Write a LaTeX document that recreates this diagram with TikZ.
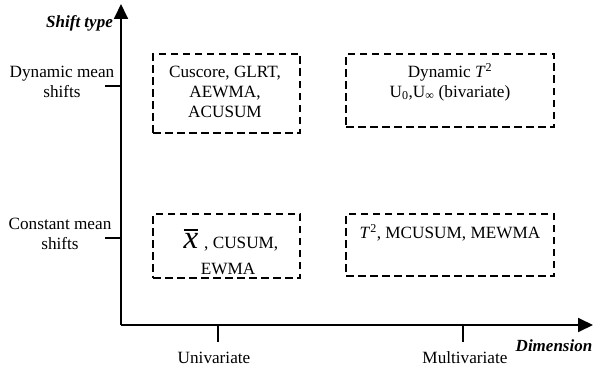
\documentclass[tikz,border=0pt]{standalone}
\usepackage{fontspec}
\setmainfont{Liberation Serif}
\usetikzlibrary{arrows.meta}
\begin{document}
\begin{tikzpicture}[x=1pt,y=-1pt,
  axis/.style={line width=1.8pt,-{Triangle[length=15pt,width=14pt]}},
  tick/.style={line width=1.8pt},
  dbox/.style={draw,line width=1.7pt,dash pattern=on 7.5pt off 4.5pt,inner sep=0pt},
  lbl/.style={font=\fontsize{17.2}{20}\selectfont,align=center,inner sep=0pt},
  axlbl/.style={font=\fontsize{17}{20}\selectfont\bfseries\itshape,inner sep=0pt}]
\useasboundingbox (0,0) rectangle (594,369);
% axes
\coordinate (O) at (121,325);
\coordinate (ytop) at (121,4);
\coordinate (xend) at (593,325);
\draw[axis] (O) -- (ytop);
\draw[axis] (O) -- (xend);
% ticks
\coordinate (t1a) at (105,86); \coordinate (t1b) at (121,86);
\coordinate (t2a) at (105,238); \coordinate (t2b) at (121,238);
\coordinate (t3a) at (218,325); \coordinate (t3b) at (218,342);
\coordinate (t4a) at (463,325); \coordinate (t4b) at (463,342);
\draw[tick] (t1a) -- (t1b);
\draw[tick] (t2a) -- (t2b);
\draw[tick] (t3a) -- (t3b);
\draw[tick] (t4a) -- (t4b);
% axis labels
\node[axlbl,anchor=east] (st) at (113,23) {Shift type};
\node[axlbl] (dim) at (554,346) {Dimension};
\node[lbl] (dyn) at (62,82) {Dynamic mean\\shifts};
\node[lbl] (con) at (60,234) {Constant mean\\shifts};
\node[lbl] (uni) at (214,358) {Univariate};
\node[lbl] (mul) at (465,358) {Multivariate};
% boxes
\node[dbox,minimum width=147pt,minimum height=79pt] (b1) at (226.5,93.5) {};
\node[dbox,minimum width=208pt,minimum height=73pt] (b2) at (450,90.5) {};
\node[dbox,minimum width=147pt,minimum height=64pt] (b3) at (226.5,246) {};
\node[dbox,minimum width=208pt,minimum height=62pt] (b4) at (450,245) {};
% box texts
\node[lbl] (b1t) at (225,92) {Cuscore, GLRT,\\AEWMA,\\ACUSUM};
\node[lbl] (b2t) at (450,82) {Dynamic \textit{T}\textsuperscript{2}\\U\textsubscript{0},U\textsubscript{∞} (bivariate)};
\node[lbl,anchor=south] (b3x) at (191,249) {\fontsize{33}{33}\selectfont\itshape\setbox0\hbox{x}\vbox{\hrule height 2pt width \wd0\kern 3pt\box0}};
\node[lbl,anchor=west] (b3t) at (204,244) {, CUSUM,};
\node[lbl] (b3e) at (228,269) {EWMA};
\node[lbl] (b4t) at (450,233) {\textit{T}\textsuperscript{2}, MCUSUM, MEWMA};
\end{tikzpicture}
\end{document}
